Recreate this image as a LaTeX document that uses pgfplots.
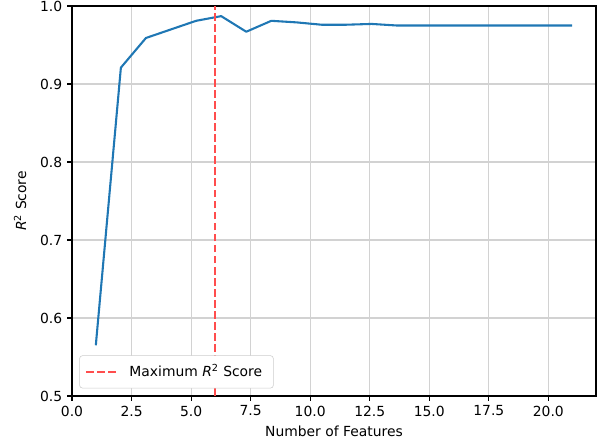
\documentclass[border=0pt]{standalone}
\usepackage{fontspec}
\setmainfont{DejaVu Sans}
\usepackage{pgfplots}
\pgfplotsset{compat=1.18}
\definecolor{mplblue}{RGB}{31,119,180}
\definecolor{maxred}{RGB}{255,77,77}
\definecolor{gridgray}{RGB}{210,210,210}
\definecolor{leggray}{RGB}{204,204,204}
\begin{document}
\begin{tikzpicture}[x=1pt,y=1pt]
\path[use as bounding box] (-51.84,-35.28) rectangle (383.04,285.12);
\begin{axis}[
  at={(0,0)}, anchor=south west,
  scale only axis,
  width=377.28pt, height=280.8pt,
  xmin=0, xmax=22, ymin=0.5, ymax=1.0,
  xtick={0,2.5,...,20}, ytick={0.5,0.6,...,1.0},
  xticklabels={0.0,2.5,5.0,7.5,10.0,12.5,15.0,17.5,20.0},
  yticklabels={0.5,0.6,0.7,0.8,0.9,1.0},
  tick align=outside, xtick pos=left, ytick pos=left,
  major tick length=3.5pt,
  every tick/.style={black, line width=0.8pt},
  axis line style={line width=0.8pt},
  grid=major,
  major grid style={gridgray, line width=0.8pt},
  font=\fontsize{10}{12}\selectfont,
  /pgf/number format/assume math mode=true,
  tick label style={font=\fontsize{10}{12}\selectfont},
  xlabel={Number of Features},
  ylabel={\textit{R}\textsuperscript{2} Score},
  ylabel style={yshift=3pt},
  label style={font=\fontsize{10}{12}\selectfont},
  legend style={at={(axis description cs:0,0)}, anchor=south west,
    xshift=5.3pt, yshift=5.5pt, draw=leggray, rounded corners=2pt,
    fill=white, inner xsep=4pt, inner ysep=6.5pt,
    nodes={inner sep=0pt, anchor=west},
    column sep=8.4pt,
    font=\fontsize{10}{12}\selectfont,
    legend cell align=left},
  legend image code/.code={\draw[#1] (0pt,0pt) -- (22pt,0pt);},
]
\addplot[mplblue, line width=1.5pt, line join=round, forget plot] coordinates {
(1.0000,0.565) (2.0526,0.921) (3.1053,0.959) (4.1579,0.970) (5.2105,0.981)
(6.2632,0.987) (7.3158,0.967) (8.3684,0.981) (9.4211,0.979) (10.4737,0.976)
(11.5263,0.976) (12.5789,0.977) (13.6316,0.975) (14.6842,0.975) (15.7368,0.975)
(16.7895,0.975) (17.8421,0.975) (18.8947,0.975) (19.9474,0.975) (21.0000,0.975)
};
\addplot[maxred, line width=1.5pt, dash pattern=on 5.55pt off 2.4pt] coordinates {(6,0.5) (6,1.0)};
\addlegendentry{Maximum \textit{R}\textsuperscript{2} Score\hspace*{4pt}}
\end{axis}
\end{tikzpicture}
\end{document}
